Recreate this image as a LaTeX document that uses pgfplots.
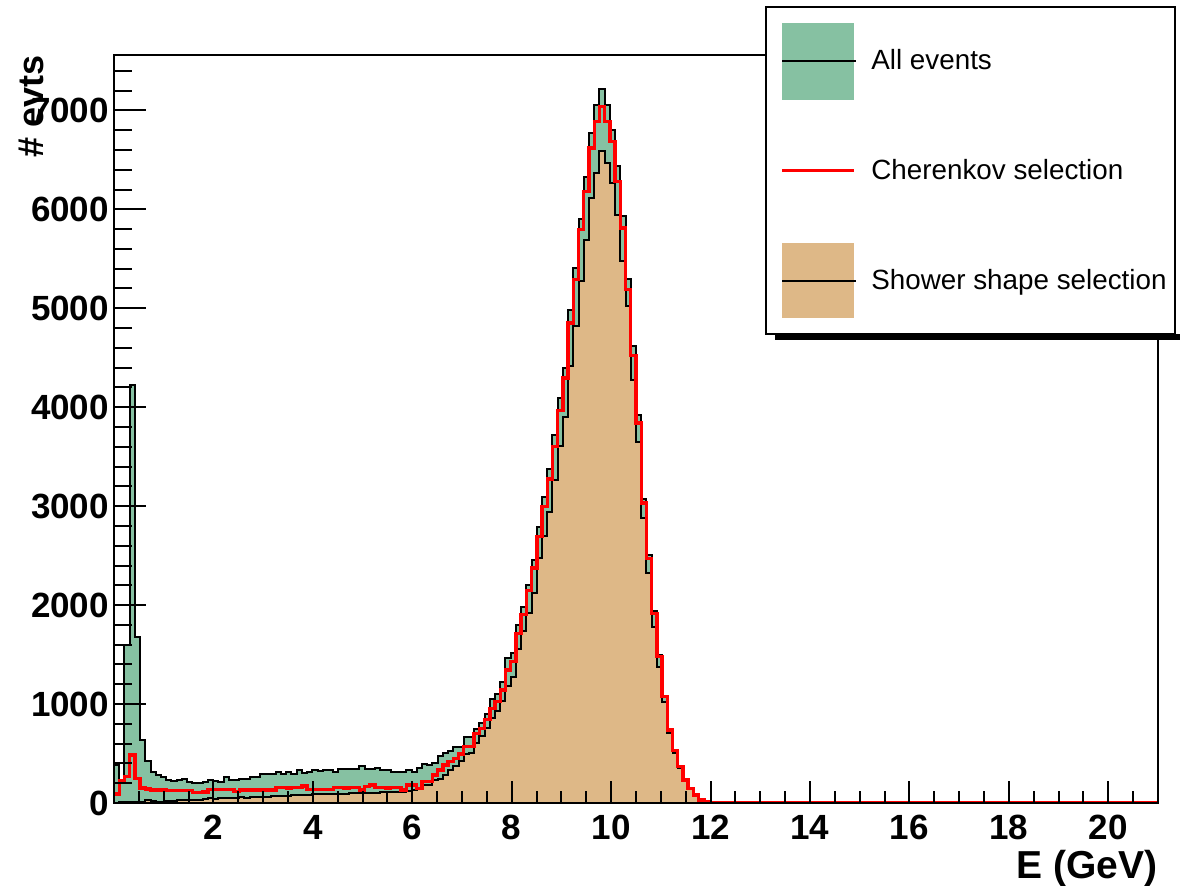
\documentclass[border=0pt]{standalone}
\usepackage{fontspec}
\setmainfont{Liberation Sans}
\usepackage{pgfplots}
\usepackage{pgfplotstable}
\pgfplotsset{compat=1.18}
\definecolor{allgreen}{RGB}{134,193,162}
\definecolor{showertan}{RGB}{222,184,135}

% bin left edge, All events, Cherenkov selection, Shower shape selection
\pgfplotstableread{
x all cher shower
0 385 90 0
0.105 200 230 5
0.21 1600 270 10
0.315 4220 485 15
0.42 1680 250 15
0.525 637 150 10
0.63 420 140 30
0.735 317 131 20
0.84 280 131 15
0.945 265 131 15
1.05 230 125 20
1.155 222 125 25
1.26 235 125 30
1.365 240 125 28
1.47 216 125 30
1.575 206 104 32
1.68 205 104 35
1.785 210 110 40
1.89 233 138 47
1.995 225 138 45
2.1 216 138 48
2.205 260 138 50
2.31 235 138 52
2.415 230 114 55
2.52 243 131 57
2.625 245 131 55
2.73 266 131 60
2.835 262 131 62
2.94 293 131 64
3.045 290 131 64
3.15 295 131 66
3.255 317 158 70
3.36 293 158 72
3.465 317 150 75
3.57 293 158 78
3.675 334 158 80
3.78 303 172 81
3.885 317 138 84
3.99 334 138 86
4.095 324 138 88
4.2 334 138 90
4.305 330 138 91
4.41 317 158 91
4.515 340 158 93
4.62 340 150 95
4.725 340 158 96
4.83 340 158 98
4.935 374 131 98
5.04 343 165 98
5.145 345 182 100
5.25 350 158 104
5.355 334 158 106
5.46 334 150 108
5.565 317 158 110
5.67 317 158 112
5.775 317 131 114
5.88 334 182 120
5.985 317 182 135
6.09 351 148 140
6.195 394 216 182
6.3 384 216 185
6.405 408 283 233
6.51 475 334 240
6.615 509 384 283
6.72 529 418 330
6.825 569 452 370
6.93 569 495 420
7.035 670 569 500
7.14 663 569 510
7.245 745 705 610
7.35 812 755 680
7.455 900 846 760
7.56 1055 957 860
7.665 1102 1024 930
7.77 1227 1143 1030
7.875 1469 1345 1180
7.98 1514 1429 1277
8.085 1800 1716 1554
8.19 1979 1905 1742
8.295 2204 2147 1918
8.4 2457 2373 2120
8.505 2794 2693 2474
8.61 3091 2996 2700
8.715 3374 3273 2945
8.82 3721 3603 3266
8.925 4090 3967 3603
9.03 4400 4294 3906
9.135 4985 4850 4412
9.24 5406 5288 4816
9.345 5902 5794 5271
9.45 6323 6181 5693
9.555 6775 6620 6114
9.66 7058 6889 6367
9.765 7216 7040 6586
9.87 7058 6889 6468
9.975 6805 6687 6266
10.08 6434 6282 5945
10.185 5928 5811 5473
10.29 5295 5187 5025
10.395 4614 4520 4277
10.5 3923 3839 3653
10.605 3071 3030 2879
10.71 2508 2474 2322
10.815 1944 1918 1783
10.92 1496 1479 1378
11.025 1085 1075 1024
11.13 745 738 710
11.235 535 529 510
11.34 370 367 355
11.445 236 233 225
11.55 150 148 142
11.655 82 81 78
11.76 32 30 28
11.865 15 12 11
11.97 6 5 4
12.075 3 2 2
12.18 0 0 0
21 0 0 0
}\histdata

\begin{document}
\begin{tikzpicture}
\path[use as bounding box] (0,0) rectangle (590pt,443pt);
\begin{axis}[
  at={(57pt,41.5pt)}, anchor=south west,
  scale only axis, width=522pt, height=374pt,
  xmin=0, xmax=21, ymin=0, ymax=7560,
  axis on top,
  axis line style={line width=1pt},
  tick align=inside, tick pos=left,
  every tick/.style={black, line width=1pt},
  major tick length=16pt, minor tick length=9pt,
  xtick={0,2,...,20},
  xticklabels={,2,4,6,8,10,12,14,16,18,20},
  minor xtick={0.5,1,...,20.5},
  ytick={0,1000,...,7000},
  yticklabels={0,1000,2000,3000,4000,5000,6000,7000},
  minor ytick={200,400,...,7400},
  xtick style={black, line width=1pt, /pgfplots/major tick length=11pt, /pgfplots/minor tick length=6pt},
  ytick style={black, line width=1pt},
  minor tick style={black, line width=1pt},
  ticklabel style={font=\fontsize{17.5}{20}\selectfont\bfseries},
  xticklabel style={yshift=-2.5pt},
  yticklabel style={xshift=1pt},
]
\addplot[const plot mark left, fill=allgreen, draw=black, line width=1pt] table[x=x, y=all] {\histdata} \closedcycle;
\addplot[const plot mark left, fill=showertan, draw=black, line width=1pt] table[x=x, y=shower] {\histdata} \closedcycle;
\addplot[const plot mark left, draw=red, line width=1.7pt] table[x=x, y=cher] {\histdata};
\end{axis}
\begin{scope}[x=0.5pt, y=-0.5pt, yshift=443pt]
  % axis titles
  \node[anchor=base east, inner sep=0, font=\fontsize{19.5}{23}\selectfont\bfseries] at (1158,879) {E (GeV)};
  \node[rotate=90, anchor=base east, inner sep=0, font=\fontsize{18}{21}\selectfont\bfseries] at (43,55) {\# evts};
  % legend
  \fill[black] (775,334) rectangle (1180,340);
  \filldraw[fill=white, draw=black, line width=1pt] (766,7) rectangle (1175,334);
  \fill[allgreen] (782,23) rectangle (854,100);
  \draw[black, line width=1pt] (782,61.5) -- (856,61.5);
  \draw[red, line width=1.7pt] (782,170.7) -- (854,170.7);
  \fill[showertan] (782,243) rectangle (854,318);
  \draw[black, line width=1pt] (782,281) -- (856,281);
  \node[anchor=base west, inner sep=0, font=\fontsize{13.9}{16}\selectfont] at (871,69.3) {All events};
  \node[anchor=base west, inner sep=0, font=\fontsize{13.9}{16}\selectfont] at (871,179.3) {Cherenkov selection};
  \node[anchor=base west, inner sep=0, font=\fontsize{13.9}{16}\selectfont] at (871,290) {Shower shape selection};
\end{scope}
\end{tikzpicture}
\end{document}
